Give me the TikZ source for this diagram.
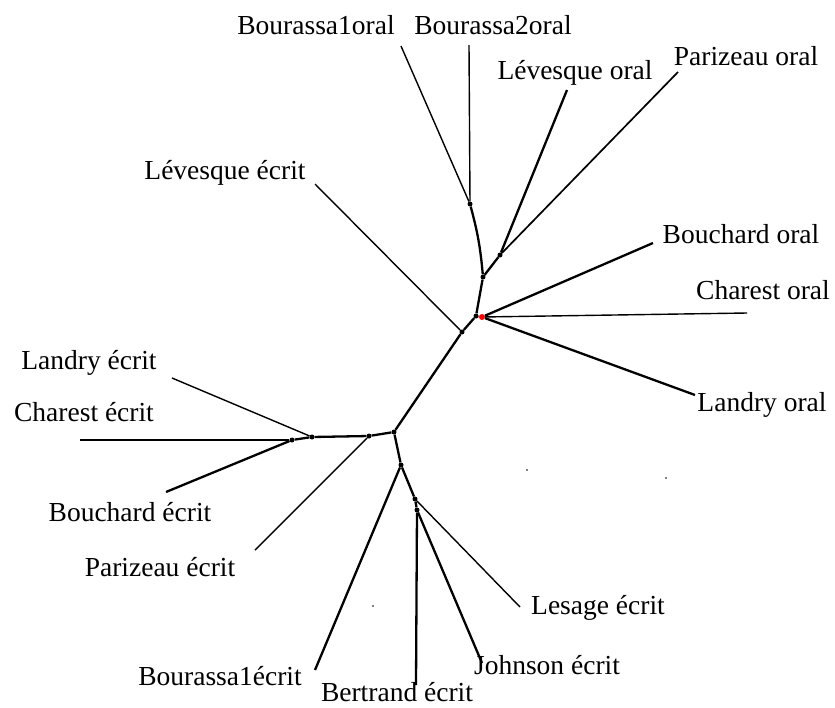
\documentclass[tikz,border=0pt]{standalone}
\usepackage{fontspec}
\setmainfont{Liberation Serif}
\begin{document}
\begin{tikzpicture}[x=1pt,y=-1pt,
  lbl/.style={font=\fontsize{27.5}{30}\selectfont,inner sep=0pt},
  knot/.style={circle,fill=black,inner sep=0pt,minimum size=5pt},
  br/.style={line width=2.3pt},
  tw/.style={line width=1.4pt}]
\useasboundingbox (0,0) rectangle (835,707);
% labels
\node[lbl] (b1o) at (316,25) {Bourassa1oral};
\node[lbl] (b2o) at (493,25) {Bourassa2oral};
\node[lbl] (lvo) at (575,73) {Lévesque oral};
\node[lbl] (pzo) at (746,56) {Parizeau oral};
\node[lbl] (lve) at (225,173) {Lévesque écrit};
\node[lbl] (bco) at (741,234) {Bouchard oral};
\node[lbl] (cho) at (763,290) {Charest oral};
\node[lbl] (ldo) at (762,405) {Landry oral};
\node[lbl] (lde) at (89,363) {Landry écrit};
\node[lbl] (che) at (84,412) {Charest écrit};
\node[lbl] (bce) at (130,512) {Bouchard écrit};
\node[lbl] (pze) at (160,567) {Parizeau écrit};
\node[lbl] (b1e) at (220,676) {Bourassa1écrit};
\node[lbl] (bte) at (397,692) {Bertrand écrit};
\node[lbl] (jne) at (547,665) {Johnson écrit};
\node[lbl] (lse) at (598,608) {Lesage écrit};
% leaf ends
\coordinate (e-b1o) at (401,46);
\coordinate (e-b2o) at (469,45);
\coordinate (e-lvo) at (567,90);
\coordinate (e-pzo) at (678,72);
\coordinate (e-lve) at (315,184);
\coordinate (e-bco) at (653,243);
\coordinate (e-cho) at (747,313);
\coordinate (e-ldo) at (695,395);
\coordinate (e-lde) at (172,378);
\coordinate (e-che) at (80,440);
\coordinate (e-bce) at (166,492);
\coordinate (e-pze) at (255,550);
\coordinate (e-b1e) at (315,670);
\coordinate (e-bte) at (416,685);
\coordinate (e-jne) at (482,663);
\coordinate (e-lse) at (520,607);
% inner knots
\node[knot] (tA) at (470,204) {};
\node[knot] (tB) at (500,255) {};
\node[knot] (tC) at (483,277) {};
\node[knot] (c0) at (476,316) {};
\node[knot,fill=red,minimum size=6pt] (cr) at (482,317) {};
\node[knot] (lE) at (462,332) {};
\node[knot] (m0) at (394,432) {};
\node[knot] (l1) at (369,436) {};
\node[knot] (l2) at (312,437) {};
\node[knot] (l3) at (292,440) {};
\node[knot] (d1) at (401,465) {};
\node[knot] (d2) at (415,499) {};
\node[knot] (d3) at (417,510) {};
% branches
\draw[tw] (tA) to (e-b1o);
\draw[tw] (tA) to (e-b2o);
\draw[br] (tA) to[bend left=5] (tC);
\draw[br] (tB) to (e-lvo);
\draw[tw,line width=1.7pt] (tB) to (e-pzo);
\draw[br] (tB) to (tC);
\draw[br] (tC) to (c0);
\draw[br] (c0) to (cr);
\draw[br] (cr) to (e-bco);
\draw[tw] (cr) to (e-cho);
\draw[br] (cr) to (e-ldo);
\draw[br] (c0) to (lE);
\draw[tw] (lE) to (e-lve);
\draw[br] (lE) to (m0);
\draw[br] (m0) to (l1);
\draw[br] (l1) to (l2);
\draw[br] (l2) to (l3);
\draw[tw] (l2) to (e-lde);
\draw[br] (l3) to (e-che);
\draw[br] (l3) to (e-bce);
\draw[tw] (l1) to (e-pze);
\draw[br] (m0) to (d1);
\draw[br] (d1) to (e-b1e);
\draw[br] (d1) to (d2);
\draw[tw] (d2) to (e-lse);
\draw[br] (d2) to (d3);
\draw[br] (d3) to (e-bte);
\draw[br] (d3) to (e-jne);
% stray dots
\fill (527,470) circle (0.9);
\fill (666,478) circle (0.9);
\fill (373,606) circle (0.9);
\end{tikzpicture}
\end{document}
